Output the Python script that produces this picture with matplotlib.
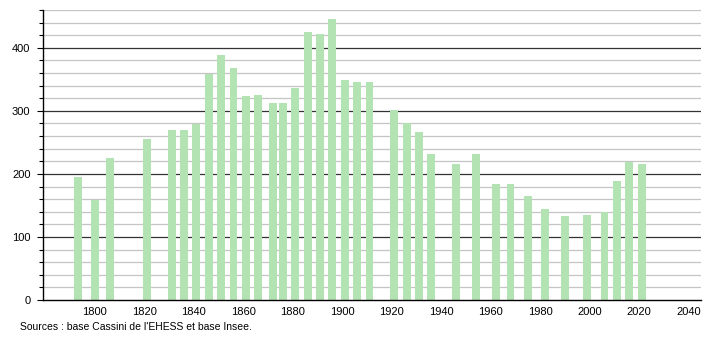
import matplotlib
matplotlib.use("Agg")
import matplotlib.pyplot as plt

years = [1793, 1800, 1806, 1821, 1831, 1836, 1841, 1846, 1851, 1856, 1861, 1866,
         1872, 1876, 1881, 1886, 1891, 1896, 1901, 1906, 1911, 1921, 1926, 1931,
         1936, 1946, 1954, 1962, 1968, 1975, 1982, 1990, 1999, 2006, 2011, 2016, 2021]
population = [195, 159, 225, 255, 270, 270, 279, 359, 389, 368, 324, 325,
              313, 313, 337, 425, 422, 446, 349, 346, 346, 302, 281, 267,
              232, 216, 232, 184, 184, 165, 144, 133, 135, 140, 189, 219, 216]
ytick_vals = [0, 100, 200, 300, 400]
xtick_vals = list(range(1800, 2041, 20))

plt.rcParams['font.family'] = ['Liberation Sans', 'DejaVu Sans']

fig = plt.figure(figsize=(7.1, 3.4), dpi=100)
ax = fig.add_axes([43/710, 40/340, 658/710, 290/340])

# grid lines: light every 20, dark every 100
for v in range(20, 461, 20):
    if v % 100 == 0:
        ax.axhline(v, color='#333333', lw=0.9, zorder=1)
    else:
        ax.axhline(v, color='#c4c4c4', lw=0.9, zorder=1)

ax.bar(years, population, width=3.2, color='#b3e3b3', zorder=2)

ax.set_xlim(1779, 2045)
ax.set_ylim(0, 460)
ax.set_yticks(ytick_vals)
ax.set_yticks(range(0, 461, 20), minor=True)
ax.set_xticks(xtick_vals)
ax.tick_params(axis='y', which='major', length=4, width=0.8, labelsize=8, pad=5)
ax.tick_params(axis='y', which='minor', length=3, width=0.8)
ax.tick_params(axis='x', length=0, labelsize=8, pad=5)

for s in ['top', 'right']:
    ax.spines[s].set_visible(False)
ax.spines['left'].set_linewidth(1)
ax.spines['bottom'].set_linewidth(1)

fig.text(20/710, 1 - 327/340, "Sources : base Cassini de l'EHESS et base Insee.",
         fontsize=7.5, va='center', ha='left')

fig.savefig("out.png", dpi=100)
